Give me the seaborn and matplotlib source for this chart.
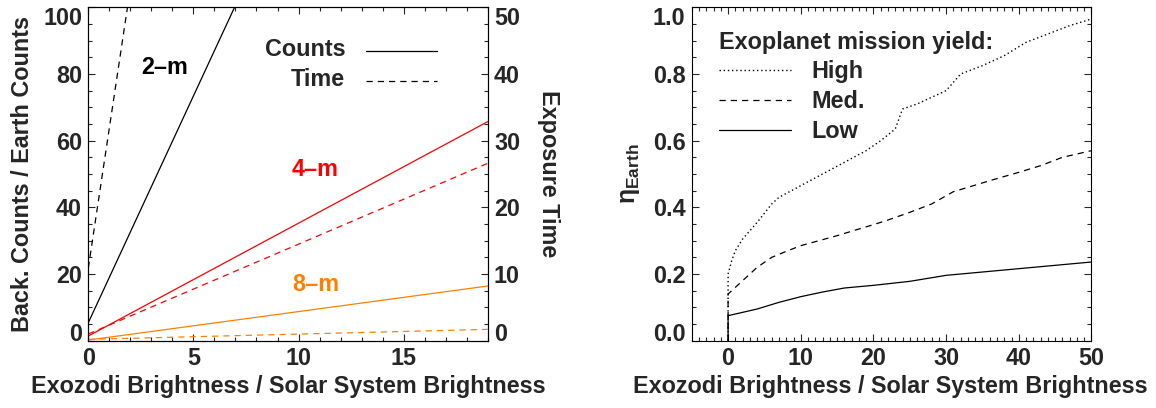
import numpy as np
import pandas as pd
import matplotlib
matplotlib.use("Agg")
import matplotlib.pyplot as plt
import seaborn as sns
from matplotlib.ticker import MultipleLocator
from matplotlib.lines import Line2D

# ---------------- data: left panel ----------------
exo_left = [0, 19]
counts_2m = [5.4, 263.8]     # Back. counts / Earth counts (left axis)
time_2m = [10.9, 409.9]      # exposure time (right axis)
counts_4m = [1.4, 65.7]
time_4m = [1.0, 26.6]
counts_8m = [0.2, 16.4]
time_8m = [0.2, 1.7]

# ---------------- data: right panel ----------------
exo_high = [0, 0, 0.5, 1, 2, 4, 6, 7, 10, 13, 16, 19, 21, 23, 24, 26, 28, 30, 32, 35, 38, 41, 44, 47, 50]
eta_high = [0, 0.20, 0.24, 0.27, 0.305, 0.355, 0.41, 0.43, 0.465, 0.50, 0.535, 0.57, 0.60, 0.635, 0.695,
            0.71, 0.73, 0.75, 0.80, 0.825, 0.855, 0.895, 0.92, 0.945, 0.965]
exo_med = [0, 0, 0.5, 2, 4, 6, 8, 10, 12, 15, 18, 20, 22, 25, 28, 31, 33, 36, 40, 43, 46, 50]
eta_med = [0, 0.14, 0.15, 0.18, 0.22, 0.25, 0.268, 0.285, 0.297, 0.315, 0.335, 0.348, 0.362, 0.385,
           0.41, 0.447, 0.46, 0.48, 0.505, 0.525, 0.55, 0.57]
exo_low = [0, 0, 4, 7, 10, 13, 16, 20, 25, 30, 35, 40, 45, 50]
eta_low = [0, 0.075, 0.095, 0.115, 0.132, 0.146, 0.158, 0.166, 0.178, 0.196, 0.206, 0.216, 0.226, 0.236]

left_xticks = [0, 5, 10, 15]
left_yticks = [0, 20, 40, 60, 80, 100]
right_yticks = [0, 10, 20, 30, 40, 50]
r_xticks = [0, 10, 20, 30, 40, 50]
r_yticks = [0.0, 0.2, 0.4, 0.6, 0.8, 1.0]

sns.set_style("white")
plt.rcParams["font.family"] = ["Liberation Sans", "DejaVu Sans"]
plt.rcParams["font.weight"] = "bold"
plt.rcParams["axes.labelweight"] = "bold"
plt.rcParams["mathtext.fontset"] = "custom"
plt.rcParams["mathtext.rm"] = "Liberation Sans"
plt.rcParams["mathtext.bf"] = "Liberation Sans:bold"
plt.rcParams["mathtext.it"] = "Liberation Sans:italic"

FS = 16.8
RED = "#ff0000"
ORANGE = "#ff8000"
DASH = (0, (5, 4))
DOT = (0, (1, 2))
LW = 0.9

fig = plt.figure(figsize=(11.56, 4.08), dpi=100)
ax1 = fig.add_axes([0.0764, 0.1650, 0.3455, 0.8171])
ax1r = ax1.twinx()
ax2 = fig.add_axes([0.5984, 0.1650, 0.3458, 0.8171])

# ---- left panel lines ----
sns.lineplot(x=exo_left, y=counts_2m, ax=ax1, color="black", lw=LW, estimator=None, sort=False)
sns.lineplot(x=exo_left, y=counts_4m, ax=ax1, color=RED, lw=LW, estimator=None, sort=False)
sns.lineplot(x=exo_left, y=counts_8m, ax=ax1, color=ORANGE, lw=LW, estimator=None, sort=False)
sns.lineplot(x=exo_left, y=time_2m, ax=ax1r, color="black", lw=LW, linestyle=DASH, estimator=None, sort=False)
sns.lineplot(x=exo_left, y=time_4m, ax=ax1r, color=RED, lw=LW, linestyle=DASH, estimator=None, sort=False)
sns.lineplot(x=exo_left, y=time_8m, ax=ax1r, color=ORANGE, lw=LW, linestyle=DASH, estimator=None, sort=False)

ax1.set_xlim(0, 19)
ax1.set_ylim(0, 100)
ax1r.set_ylim(0, 50)
ax1.set_xticks(left_xticks)
ax1.set_xticklabels([str(v) for v in left_xticks])
ax1.set_yticks(left_yticks)
ax1.set_yticklabels([str(v) for v in left_yticks])
ax1r.set_yticks(right_yticks)
ax1r.set_yticklabels([str(v) for v in right_yticks])
ax1.xaxis.set_minor_locator(MultipleLocator(1))
ax1.yaxis.set_minor_locator(MultipleLocator(5))
ax1r.yaxis.set_minor_locator(MultipleLocator(2.5))

ax1.tick_params(axis="x", which="both", direction="in", top=True, bottom=True)
ax1.tick_params(axis="y", which="both", direction="in", left=True, right=False)
ax1r.tick_params(axis="y", which="both", direction="in", right=True, left=False)
for a in (ax1, ax1r):
    a.tick_params(which="major", length=5, width=0.8, labelsize=FS, pad=4.5)
    a.tick_params(which="minor", length=3, width=0.8)

ax1.set_xlabel("Exozodi Brightness / Solar System Brightness", fontsize=FS, va="center")
ax1.xaxis.set_label_coords(0.5, -0.136)
ax1.set_ylabel("Back. Counts / Earth Counts", fontsize=FS, va="center")
ax1.yaxis.set_label_coords(-0.166, 0.5)
ax1r.set_ylabel("Exposure Time", fontsize=FS, rotation=270, va="center")
ax1r.yaxis.set_label_coords(1.151, 0.5)

ax1.text(3.65, 81.8, "2\u2013m", ha="center", va="center", fontsize=FS, color="black")
ax1.text(10.8, 51.2, "4\u2013m", ha="center", va="center", fontsize=FS, color=RED)
ax1.text(10.8, 17.0, "8\u2013m", ha="center", va="center", fontsize=FS, color=ORANGE)

# legend (right-aligned labels, keys on the right)
ax1.text(0.643, 0.872, "Counts", transform=ax1.transAxes, ha="right", va="center", fontsize=FS)
ax1.text(0.643, 0.782, "Time", transform=ax1.transAxes, ha="right", va="center", fontsize=FS)
ax1.add_line(Line2D([0.695, 0.873], [0.868, 0.868], transform=ax1.transAxes, color="black", lw=LW))
ax1.add_line(Line2D([0.695, 0.873], [0.780, 0.780], transform=ax1.transAxes, color="black", lw=LW, linestyle=DASH))

# ---- right panel ----
sns.lineplot(x=exo_high, y=eta_high, ax=ax2, color="black", lw=1.0, linestyle=DOT, estimator=None, sort=False)
sns.lineplot(x=exo_med, y=eta_med, ax=ax2, color="black", lw=LW, linestyle=DASH, estimator=None, sort=False)
sns.lineplot(x=exo_low, y=eta_low, ax=ax2, color="black", lw=LW, estimator=None, sort=False)

ax2.set_xlim(-5, 50)
ax2.set_ylim(0, 1)
ax2.set_xticks(r_xticks)
ax2.set_xticklabels([str(v) for v in r_xticks])
ax2.set_yticks(r_yticks)
ax2.set_yticklabels([f"{v:.1f}" for v in r_yticks])
ax2.xaxis.set_minor_locator(MultipleLocator(1))
ax2.yaxis.set_minor_locator(MultipleLocator(0.05))
ax2.tick_params(which="both", direction="in", top=True, bottom=True, left=True, right=True)
ax2.tick_params(which="major", length=5, width=0.8, labelsize=FS, pad=4.5)
ax2.tick_params(which="minor", length=3, width=0.8)
ax2.set_xlabel("Exozodi Brightness / Solar System Brightness", fontsize=FS, va="center")
ax2.xaxis.set_label_coords(0.496, -0.136)
ax2.set_ylabel(r"$\mathrm{\eta}_{\mathbf{Earth}}$", fontsize=FS + 1, va="center")
ax2.yaxis.set_label_coords(-0.154, 0.5)

handles = [Line2D([], [], color="black", lw=1.0, linestyle=DOT),
           Line2D([], [], color="black", lw=LW, linestyle=DASH),
           Line2D([], [], color="black", lw=LW)]
leg = ax2.legend(handles, ["High", "Med.", "Low"], title="Exoplanet mission yield:",
                 loc="upper left", bbox_to_anchor=(0.068, 0.93), frameon=False,
                 alignment="left", handlelength=3.1, handletextpad=0.85, labelspacing=0.29,
                 borderpad=0, borderaxespad=0, fontsize=FS,
                 title_fontproperties={"weight": "bold", "size": FS})
for t in leg.get_texts():
    t.set_fontweight("bold")

for a in (ax1, ax1r, ax2):
    for s in a.spines.values():
        s.set_linewidth(0.8)
        s.set_color("black")
        s.set_visible(True)

# shift first/last y tick labels inside the frame like the reference
for a, axis in ((ax1, ax1.yaxis), (ax1r, ax1r.yaxis), (ax2, ax2.yaxis)):
    ticks = axis.get_major_ticks()
    ticks[0].label1.set_va("baseline"); ticks[0].label2.set_va("baseline")
    ticks[-1].label1.set_va("top"); ticks[-1].label2.set_va("top")

fig.savefig("out.png", dpi=100)
